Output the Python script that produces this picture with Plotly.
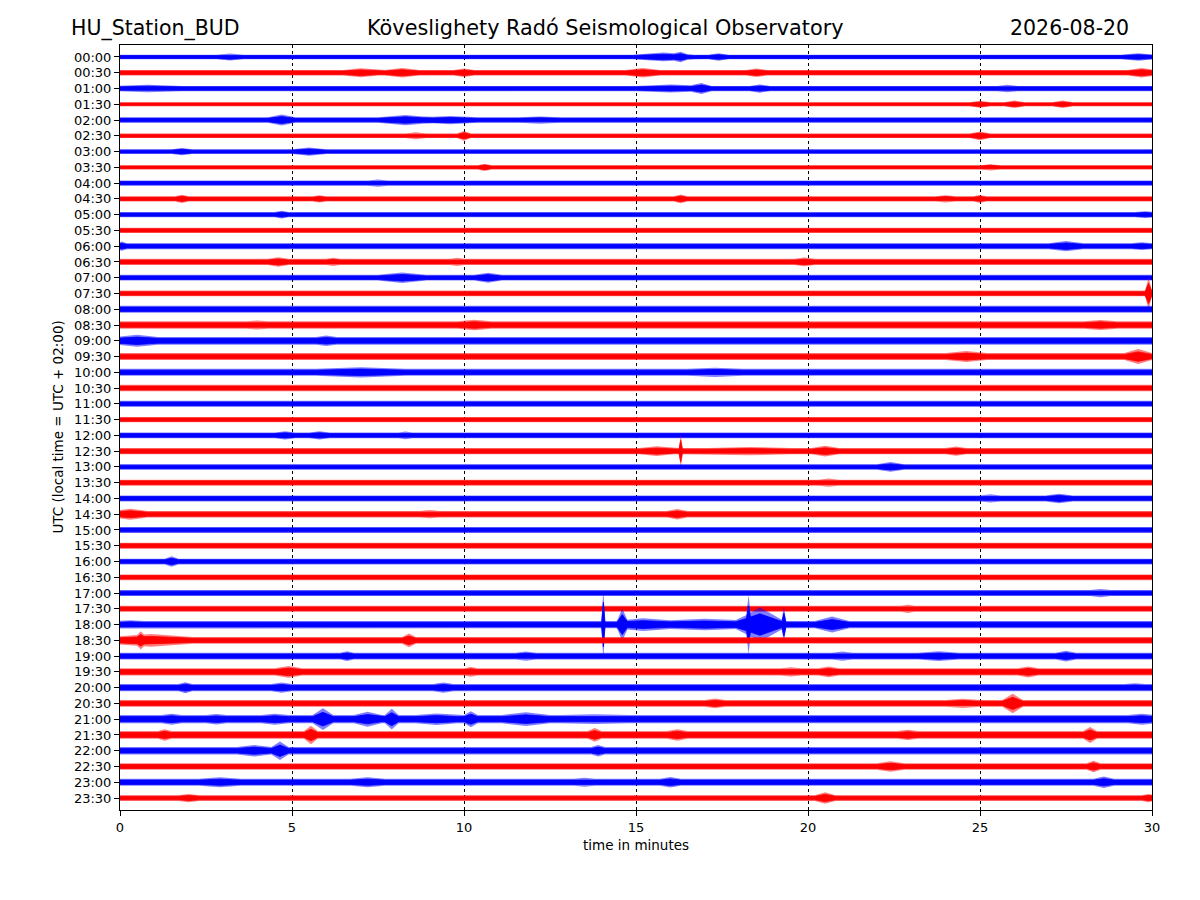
import plotly.graph_objects as go

# ---------------- data ----------------
row_labels = ["00:00", "00:30", "01:00", "01:30", "02:00", "02:30", "03:00", "03:30",
              "04:00", "04:30", "05:00", "05:30", "06:00", "06:30", "07:00", "07:30",
              "08:00", "08:30", "09:00", "09:30", "10:00", "10:30", "11:00", "11:30",
              "12:00", "12:30", "13:00", "13:30", "14:00", "14:30", "15:00", "15:30",
              "16:00", "16:30", "17:00", "17:30", "18:00", "18:30", "19:00", "19:30",
              "20:00", "20:30", "21:00", "21:30", "22:00", "22:30", "23:00", "23:30"]

# background noise level (half envelope) of each 30-minute line
base_amp = [2.0, 2.5, 2.3, 1.8, 2.4, 2.0, 2.0, 1.8, 2.2, 2.2, 2.2, 2.3,
            2.6, 2.7, 2.5, 2.5, 3.0, 3.2, 3.4, 3.0, 3.0, 2.8, 2.6, 2.3,
            2.5, 2.8, 2.4, 2.6, 2.6, 2.9, 2.6, 2.7, 2.5, 2.5, 2.6, 2.6,
            3.2, 3.0, 3.0, 3.2, 3.2, 3.0, 3.6, 3.4, 3.2, 2.8, 3.0, 2.5]

# bursts / spikes read from the record: line index, minute, half-duration (min), peak amplitude
event_row = [0, 0, 0, 0, 0,
             1, 1, 1, 1, 1, 1,
             2, 2, 2, 2, 2,
             3, 3, 3,
             4, 4, 4, 4,
             5, 5, 5,
             6, 6,
             7, 7,
             8,
             9, 9, 9, 9, 9,
             10, 10,
             12, 12, 12,
             13, 13, 13, 13,
             14, 14,
             15,
             17, 17, 17,
             18, 18,
             19, 19,
             20, 20,
             24, 24, 24,
             25, 25, 25, 25, 25,
             26,
             27,
             28, 28,
             29, 29, 29,
             32,
             34,
             35,
             36, 36, 36, 36, 36, 36, 36, 36, 36,
             37, 37, 37, 37,
             38, 38, 38, 38, 38,
             39, 39, 39, 39, 39,
             40, 40, 40, 40,
             41, 41, 41,
             42, 42, 42, 42, 42, 42, 42, 42, 42, 42, 42,
             43, 43, 43, 43, 43, 43,
             44, 44, 44,
             45, 45,
             46, 46, 46, 46, 46,
             47, 47, 47]
event_minute = [3.2, 15.8, 16.3, 17.4, 29.6,
                7.0, 8.2, 10.0, 15.2, 18.5, 29.7,
                0.8, 16.0, 16.9, 18.6, 25.8,
                25.0, 26.0, 27.4,
                4.7, 8.3, 9.6, 12.2,
                8.6, 10.0, 25.0,
                1.8, 5.5,
                10.6, 25.3,
                7.5,
                1.8, 5.8, 16.3, 24.0, 25.0,
                4.7, 29.8,
                0.05, 27.5, 29.7,
                4.6, 6.2, 9.8, 19.9,
                8.2, 10.7,
                29.9,
                4.0, 10.3, 28.5,
                0.5, 6.0,
                24.6, 29.6,
                7.0, 17.3,
                4.8, 5.8, 8.3,
                15.6, 16.3, 18.3, 20.5, 24.3,
                22.4,
                20.6,
                25.3, 27.3,
                0.3, 9.0, 16.2,
                1.5,
                28.5,
                22.9,
                0.3, 14.05, 14.6, 15.2, 17.0, 18.27, 18.6, 19.3, 20.7,
                0.9, 0.6, 8.4, 21.5,
                6.6, 11.8, 21.0, 23.8, 27.5,
                4.9, 10.2, 19.5, 20.6, 26.4,
                1.9, 4.7, 9.4, 29.5,
                17.3, 24.5, 25.95,
                1.5, 2.8, 4.5, 5.9, 7.2, 7.9, 9.2, 10.2, 11.8, 13.8, 29.7,
                1.3, 5.55, 13.8, 16.2, 22.9, 28.2,
                3.9, 4.65, 13.9,
                22.4, 28.3,
                2.9, 7.2, 13.5, 16.0, 28.6,
                2.0, 20.5, 29.9]
event_span = [0.4, 0.9, 0.2, 0.3, 0.5,
              0.5, 0.5, 0.3, 0.5, 0.3, 0.4,
              1.0, 1.0, 0.3, 0.3, 0.3,
              0.3, 0.3, 0.3,
              0.4, 0.8, 0.8, 0.6,
              0.3, 0.2, 0.3,
              0.3, 0.5,
              0.2, 0.3,
              0.3,
              0.2, 0.2, 0.2, 0.3, 0.2,
              0.2, 0.3,
              0.15, 0.5, 0.3,
              0.3, 0.2, 0.2, 0.3,
              0.7, 0.4,
              0.1,
              0.3, 0.5, 0.5,
              0.6, 0.3,
              0.6, 0.4,
              1.3, 0.8,
              0.3, 0.3, 0.2,
              0.5, 0.05, 1.2, 0.4, 0.3,
              0.4,
              0.3,
              0.3, 0.4,
              0.5, 0.3, 0.3,
              0.2,
              0.3,
              0.2,
              0.4, 0.05, 0.15, 0.8, 1.5, 0.06, 0.7, 0.06, 0.5,
              1.2, 0.1, 0.2, 0.3,
              0.2, 0.3, 0.3, 0.6, 0.3,
              0.4, 0.2, 0.3, 0.3, 0.3,
              0.2, 0.3, 0.3, 0.3,
              0.3, 0.5, 0.3,
              0.3, 0.3, 0.4, 0.3, 0.4, 0.2, 0.6, 0.2, 0.7, 1.0, 0.4,
              0.2, 0.2, 0.2, 0.3, 0.3, 0.2,
              0.5, 0.25, 0.2,
              0.4, 0.2,
              0.6, 0.5, 0.3, 0.3, 0.3,
              0.3, 0.3, 0.2]
event_amp = [3.0, 3.8, 4.5, 3.2, 3.2,
             4.0, 4.2, 3.8, 4.2, 3.8, 4.2,
             3.2, 3.4, 4.8, 3.6, 3.2,
             3.0, 3.2, 3.2,
             4.8, 4.5, 3.6, 3.2,
             3.0, 4.2, 3.8,
             3.2, 3.6,
             3.2, 2.8,
             3.2,
             3.6, 3.2, 3.8, 3.2, 3.4,
             3.4, 3.0,
             4.0, 4.5, 3.4,
             4.2, 3.6, 3.6, 3.8,
             4.6, 4.4,
             14.0,
             4.0, 4.6, 4.4,
             5.2, 4.6,
             4.8, 6.5,
             4.5, 4.0,
             3.6, 3.6, 3.4,
             4.2, 15.0, 3.6, 4.6, 4.0,
             4.2,
             3.6,
             3.6, 4.2,
             4.8, 3.6, 4.5,
             4.5,
             3.6,
             3.6,
             3.8, 31.0, 14.0, 5.5, 5.0, 26.0, 15.0, 16.0, 7.0,
             5.5, 8.0, 6.0, 3.6,
             4.2, 4.0, 4.0, 4.2, 4.6,
             5.2, 4.2, 4.0, 4.6, 4.8,
             4.8, 4.4, 4.4, 3.8,
             4.2, 4.0, 8.5,
             4.8, 4.6, 4.8, 9.5, 6.5, 9.0, 5.0, 7.0, 6.0, 4.3, 4.8,
             5.0, 8.0, 6.0, 5.0, 4.5, 7.0,
             5.0, 8.0, 5.0,
             4.5, 5.0,
             4.3, 4.3, 4.0, 4.6, 5.0,
             3.6, 5.0, 3.6]

x_ticks = [0, 5, 10, 15, 20, 25, 30]
line_colors = ["#0000ff", "#ff0000"]
halo_colors = ["rgba(0,0,255,0.5)", "rgba(255,0,0,0.5)"]
vertical_scale = 1 / 15.8   # amplitude units per line spacing

# ---------------- figure ----------------
fig = go.Figure()

for r, label in enumerate(row_labels):
    base = base_amp[r]
    evs = [(m, s, a) for rr, m, s, a in zip(event_row, event_minute, event_span, event_amp) if rr == r]
    xs = {0.0, 30.0}
    for m, s, a in evs:
        for v in (m - s, m, m + s):
            if 0 <= v <= 30:
                xs.add(round(v, 4))
    xs = sorted(xs)
    env = []
    for x in xs:
        v = base
        for m, s, a in evs:
            d = abs(x - m)
            if d < s:
                v = max(v, base + (a - base) * (1 - d / s))
        env.append(v)
    for frac, fcol, lw in ((1.15, halo_colors[r % 2], 0), (0.72, line_colors[r % 2], 0.8)):
        up = [r - e * vertical_scale * frac for e in env]
        lo = [r + e * vertical_scale * frac for e in env]
        fig.add_trace(go.Scatter(
            x=xs + xs[::-1], y=up + lo[::-1],
            mode="lines", fill="toself", fillcolor=fcol,
            line=dict(color=line_colors[r % 2] if lw else "rgba(0,0,0,0)", width=lw),
            hoverinfo="skip", showlegend=False))

font_family = "DejaVu Sans"
fig.update_layout(
    width=1200, height=900,
    margin=dict(l=112, r=56, t=37, b=98),
    paper_bgcolor="white", plot_bgcolor="white",
    font=dict(family=font_family, size=13, color="black"),
    showlegend=False,
)
fig.update_xaxes(
    range=[0, 30], tickvals=x_ticks, ticktext=[str(t) for t in x_ticks],
    showline=True, mirror=True, linecolor="black", linewidth=1,
    ticks="outside", ticklen=5, tickcolor="black",
    showgrid=True, gridcolor="black", gridwidth=0.7, griddash="dot",
    zeroline=False, tickfont=dict(size=13),
)
fig.update_yaxes(
    range=[47.76, -0.76], tickvals=list(range(len(row_labels))), ticktext=row_labels,
    showline=True, mirror=True, linecolor="black", linewidth=1,
    ticks="outside", ticklen=5, tickcolor="black",
    showgrid=False, zeroline=False, tickfont=dict(size=13),
)

annos = [
    dict(text="HU_Station_BUD", x=-0.0494, xanchor="left", size=20.5),
    dict(text="Köveslighety Radó Seismological Observatory", x=0.47, xanchor="center", size=20.8),
    dict(text="2026-08-20", x=0.9797, xanchor="right", size=20.5),
]
for a in annos:
    fig.add_annotation(xref="paper", yref="paper", y=1.022, yanchor="middle",
                       showarrow=False, text=a["text"], x=a["x"], xanchor=a["xanchor"],
                       font=dict(size=a["size"], family=font_family))

fig.add_annotation(xref="paper", yref="paper", x=0.5, y=-0.046, yanchor="middle",
                   text="time in minutes", showarrow=False, font=dict(size=13.5))
fig.add_annotation(xref="paper", yref="paper", x=-0.061, y=0.5, xanchor="center",
                   text="UTC (local time = UTC + 02:00)", textangle=-90,
                   showarrow=False, font=dict(size=13.5))

fig.write_html("out.html")
